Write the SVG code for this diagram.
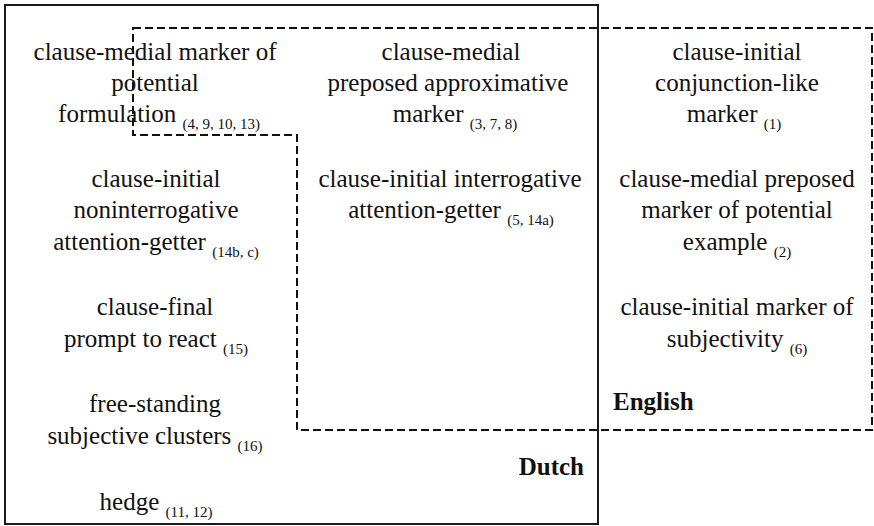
<svg xmlns="http://www.w3.org/2000/svg" width="874" height="526" viewBox="0 0 874 526">
<style>
.t{font-family:"Liberation Serif","Times New Roman",serif;font-size:25px;fill:#111;text-anchor:middle}
.s{font-size:15px}
.b{font-family:"Liberation Serif","Times New Roman",serif;font-size:25px;font-weight:bold;fill:#111}
.dutch{fill:none;stroke:#1a1a1a;stroke-width:2}
.eng{fill:none;stroke:#111;stroke-width:2;stroke-dasharray:8 4}
</style>
<rect width="874" height="526" fill="#fff"/>
<g id="regions">
<rect id="dutch-region" class="dutch" x="5" y="5" width="593" height="519"/>
<path id="english-region" class="eng" d="M133 28 H872 V430 H297 V135 H133 Z"/>
</g>
<g id="node-clause-medial-potential-formulation">
<text class="t" x="155" y="60">clause-medial marker of</text>
<text class="t" x="155" y="91">potential</text>
<text class="t" x="159" y="122">formulation <tspan class="s" dy="7">(4, 9, 10, 13)</tspan></text>
</g>
<g id="node-clause-medial-preposed-approximative">
<text class="t" x="451" y="60">clause-medial</text>
<text class="t" x="448" y="91">preposed approximative</text>
<text class="t" x="455" y="122">marker <tspan class="s" dy="7">(3, 7, 8)</tspan></text>
</g>
<g id="node-clause-initial-conjunction-like">
<text class="t" x="737" y="60">clause-initial</text>
<text class="t" x="737" y="91">conjunction-like</text>
<text class="t" x="734" y="122">marker <tspan class="s" dy="7">(1)</tspan></text>
</g>
<g id="node-clause-initial-noninterrogative">
<text class="t" x="156" y="187">clause-initial</text>
<text class="t" x="156" y="218">noninterrogative</text>
<text class="t" x="156" y="250">attention-getter <tspan class="s" dy="7">(14b, c)</tspan></text>
</g>
<g id="node-clause-initial-interrogative">
<text class="t" x="450" y="187">clause-initial interrogative</text>
<text class="t" x="451" y="218">attention-getter <tspan class="s" dy="7">(5, 14a)</tspan></text>
</g>
<g id="node-clause-medial-preposed-example">
<text class="t" x="737" y="187">clause-medial preposed</text>
<text class="t" x="737" y="218">marker of potential</text>
<text class="t" x="737" y="250">example <tspan class="s" dy="7">(2)</tspan></text>
</g>
<g id="node-clause-final-prompt">
<text class="t" x="155" y="315">clause-final</text>
<text class="t" x="156" y="347">prompt to react <tspan class="s" dy="7">(15)</tspan></text>
</g>
<g id="node-clause-initial-subjectivity">
<text class="t" x="737" y="315">clause-initial marker of</text>
<text class="t" x="737" y="347">subjectivity <tspan class="s" dy="7">(6)</tspan></text>
</g>
<g id="node-free-standing">
<text class="t" x="155" y="412">free-standing</text>
<text class="t" x="155" y="444">subjective clusters <tspan class="s" dy="7">(16)</tspan></text>
</g>
<g id="node-hedge">
<text class="t" x="156" y="510">hedge <tspan class="s" dy="7">(11, 12)</tspan></text>
</g>
<g id="labels">
<text class="b" x="613" y="410">English</text>
<text class="b" x="584" y="475" text-anchor="end">Dutch</text>
</g>
<g id="connectors"/>
</svg>
